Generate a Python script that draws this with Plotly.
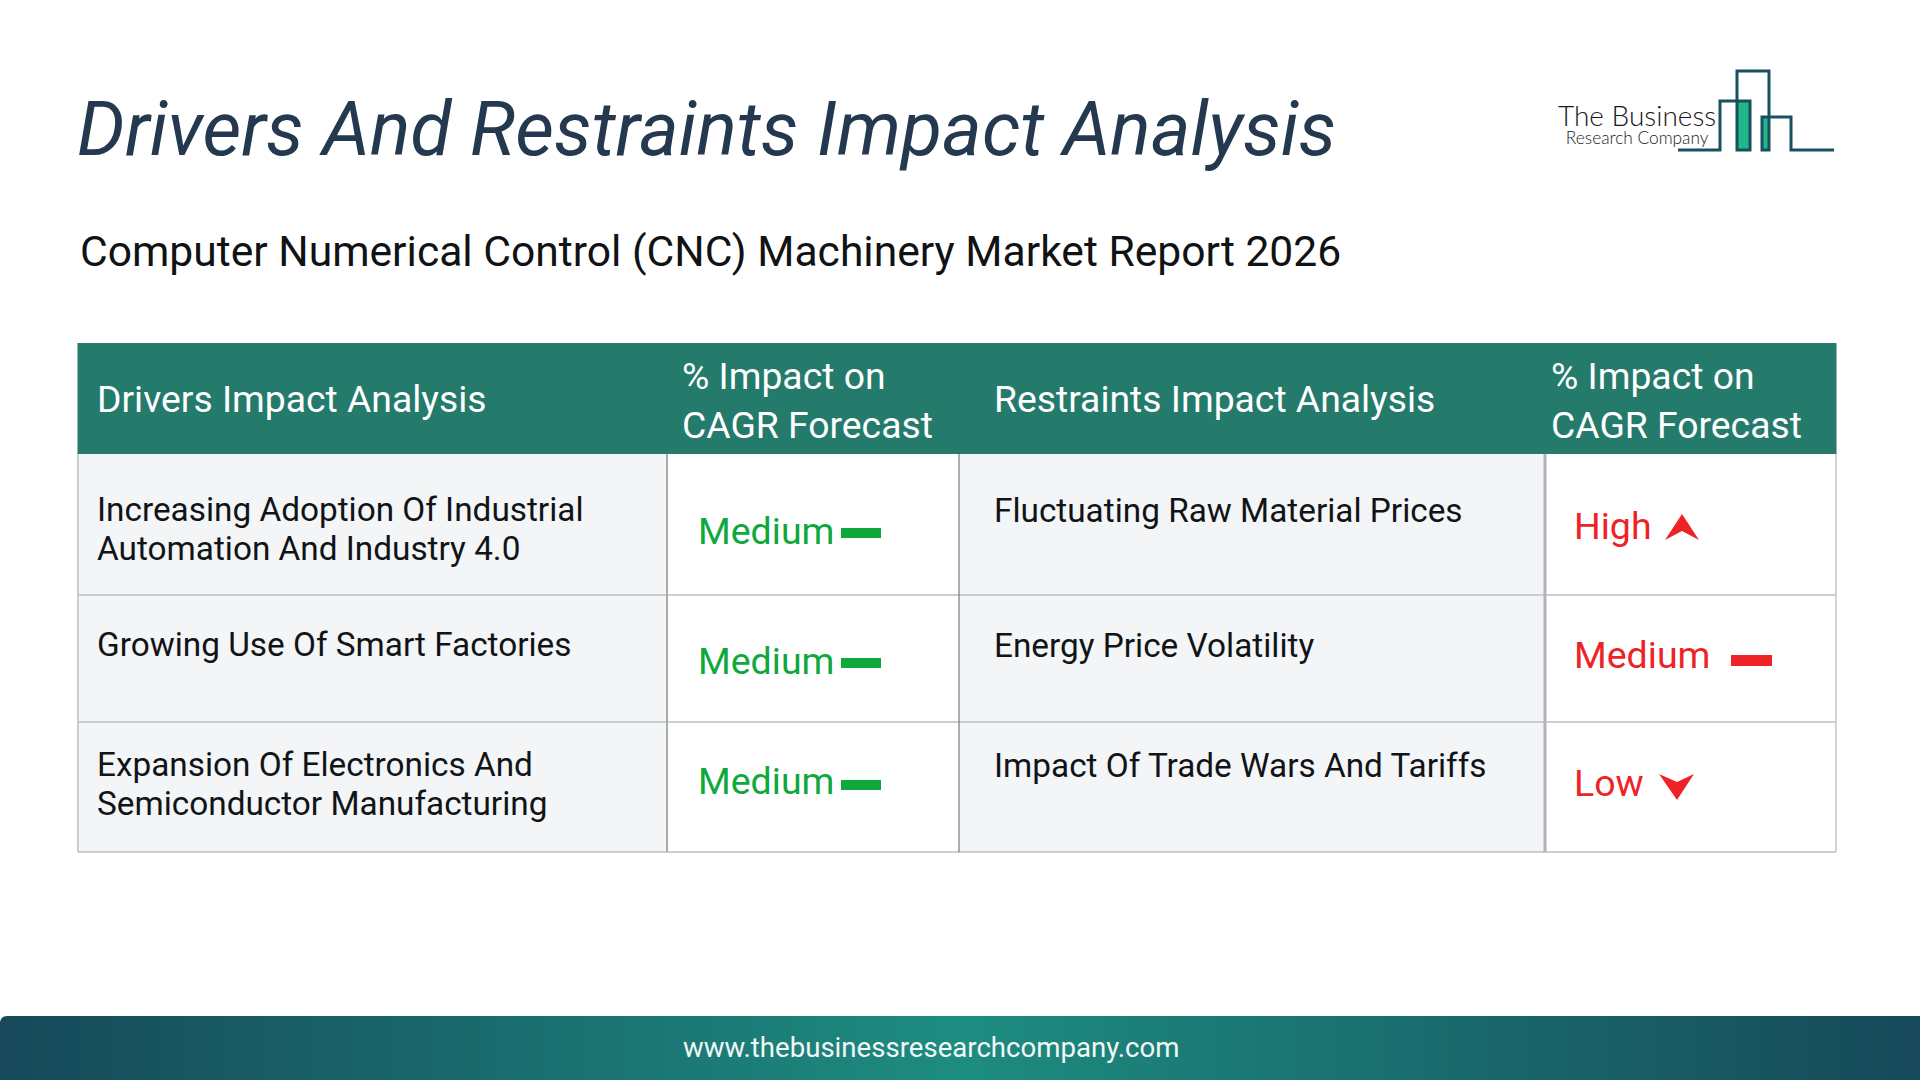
import plotly.graph_objects as go

# ---- content ----
title = "Drivers And Restraints Impact Analysis"
subtitle = "Computer Numerical Control (CNC) Machinery Market Report 2026"
footer = "www.thebusinessresearchcompany.com"
logo_lines = ["The Business", "Research Company"]
header_drivers = ["Drivers Impact Analysis"]
header_impact = ["% Impact on", "CAGR Forecast"]
header_restraints = ["Restraints Impact Analysis"]
drivers = [
    ["Increasing Adoption Of Industrial", "Automation And Industry 4.0"],
    ["Growing Use Of Smart Factories"],
    ["Expansion Of Electronics And", "Semiconductor Manufacturing"],
]
driver_levels = ["Medium", "Medium", "Medium"]
restraints = ["Fluctuating Raw Material Prices", "Energy Price Volatility", "Impact Of Trade Wars And Tariffs"]
restraint_levels = ["High", "Medium", "Low"]

# ---- layout geometry (pixels) ----
COLS = [78, 667, 959, 1545, 1836]
HEAD_TOP, HEAD_BOT = 343, 454
ROWS = [453, 595, 722, 852]
FOOT_TOP = 1016
TEAL, LIGHT, BORDER = "#247a6b", "#f3f5f7", "#bcbfc2"
GREEN, RED = "#0ea83c", "#ee2326"
INK, NAVY, LOGO = "#111417", "#24394f", "#1a4f5e"
FONT = "Roboto"

shapes, ann = [], []

def rect(x0, y0, x1, y1, fill, line=None, w=1):
    shapes.append(dict(type="rect", xref="x", yref="y", x0=x0, y0=y0, x1=x1, y1=y1,
                       fillcolor=fill, line=dict(color=line or "rgba(0,0,0,0)", width=w if line else 0), layer="above"))

def path(d, fill=None, line=None, w=0):
    shapes.append(dict(type="path", xref="x", yref="y", path=d, fillcolor=fill or "rgba(0,0,0,0)",
                       line=dict(color=line or "rgba(0,0,0,0)", width=w), layer="above"))

def vline(x, y0, y1, color=BORDER, w=1.5):
    shapes.append(dict(type="line", xref="x", yref="y", x0=x, x1=x, y0=y0, y1=y1, line=dict(color=color, width=w), layer="above"))

def hline(y, x0, x1, color=BORDER, w=1.5):
    shapes.append(dict(type="line", xref="x", yref="y", x0=x0, x1=x1, y0=y, y1=y, line=dict(color=color, width=w), layer="above"))

def text(x, y, s, size, color, anchor="left", **font):
    ann.append(dict(x=x, y=y, xref="x", yref="y", text=s, showarrow=False, xanchor=anchor, yanchor="middle",
                    align=anchor, font=dict(family=font.pop("family", FONT), size=size, color=color, **font),
                    borderpad=0, borderwidth=0))

# table body
rect(COLS[0], ROWS[0], COLS[1], ROWS[3], LIGHT)
rect(COLS[2], ROWS[0], COLS[3], ROWS[3], LIGHT)
for y in ROWS[1:]:
    hline(y, COLS[0], COLS[4])
vline(COLS[0], ROWS[0], ROWS[3])
vline(COLS[1], ROWS[0], ROWS[3], "#a9acaf", 2)
vline(COLS[2], ROWS[0], ROWS[3], "#77797c", 1.2)
vline(COLS[3], ROWS[0], ROWS[3], "#b0b3b6", 3)
vline(COLS[4], ROWS[0], ROWS[3], "#c4c6c8", 1.5)
rect(COLS[0] - 0.5, HEAD_TOP, COLS[4] + 0.5, HEAD_BOT, TEAL)

# header text
HDR = 37.3
text(97, 399, header_drivers[0], HDR, "white")
text(994, 399, header_restraints[0], HDR, "white")
for x in (682, 1551):
    text(x, 376, header_impact[0], HDR, "white")
    text(x, 425, header_impact[1], HDR, "white")

# body text
BODY = 33.35
driver_y = [[509, 548], [644], [764, 803]]
for lines, ys in zip(drivers, driver_y):
    for s, y in zip(lines, ys):
        text(97, y, s, BODY, INK)
for s, y in zip(restraints, [510, 645, 765]):
    text(994, y, s, BODY, INK)

# levels
LVL = 37.5
for s, y in zip(driver_levels, [531, 661, 781]):
    text(698, y, s, LVL, GREEN)
for y in (533, 663, 785):
    rect(841, y - 5, 881, y + 5, GREEN)
for s, y in zip(restraint_levels, [526, 655, 783]):
    text(1574, y, s, LVL, RED)
rect(1731, 655, 1772, 666, RED)
path("M 1682 514 L 1699 540 L 1682 531 L 1665 540 Z", RED)
path("M 1659 774 L 1677 782 L 1694 774 L 1677 800 Z", RED)

# title block
text(77, 129, title, 75.4, NAVY, style="italic")
text(80, 251, subtitle, 42.6, "#101214")

# logo
path("M 1737 101 H 1750 V 150 H 1737 Z", "#1fb886")
path("M 1762 117 H 1769 V 150 H 1762 Z", "#1fb886")
path("M 1678 150 H 1720 V 101 H 1750 V 150 H 1737 V 71 H 1769 V 150 H 1762 V 117 H 1791 V 150 H 1834",
     None, LOGO, 3)
logo_text = (f'<span style="font-size:28px">{logo_lines[0]}</span><br>'
             f'<span style="font-size:17.3px">{logo_lines[1]}</span>')
text(1636.5, 122.5, logo_text, 14, "#17191b", anchor="center", family="Lato", weight=300)

# footer: horizontal band drawn as a smoothed heatmap
footer_x = [0, 960, 1920]
footer_y = [FOOT_TOP + 16, FOOT_TOP + 48]
footer_z = [[0, 1, 0], [0, 1, 0]]
band = go.Heatmap(x=footer_x, y=footer_y, z=footer_z, zsmooth="best", showscale=False, hoverinfo="skip",
                  colorscale=[[0, "#17495a"], [1, "#1d8c80"]], zmin=0, zmax=1)
path(f"M 0 {FOOT_TOP} H 7 Q 1 {FOOT_TOP} 0 {FOOT_TOP + 6} Z", "white")
text(931, 1047, footer, 27.6, "#f2f7f7", anchor="center")

fig = go.Figure(band)
fig.update_layout(
    width=1920, height=1080, autosize=False,
    margin=dict(l=0, r=0, t=0, b=0, pad=0),
    paper_bgcolor="white", plot_bgcolor="white", showlegend=False,
    xaxis=dict(range=[0, 1920], visible=False, fixedrange=True),
    yaxis=dict(range=[1080, 0], visible=False, fixedrange=True),
    shapes=shapes, annotations=ann,
)
fig.write_html("out.html", config=dict(displayModeBar=False),
               post_script="document.body.style.margin='0';document.body.style.overflow='hidden';")
